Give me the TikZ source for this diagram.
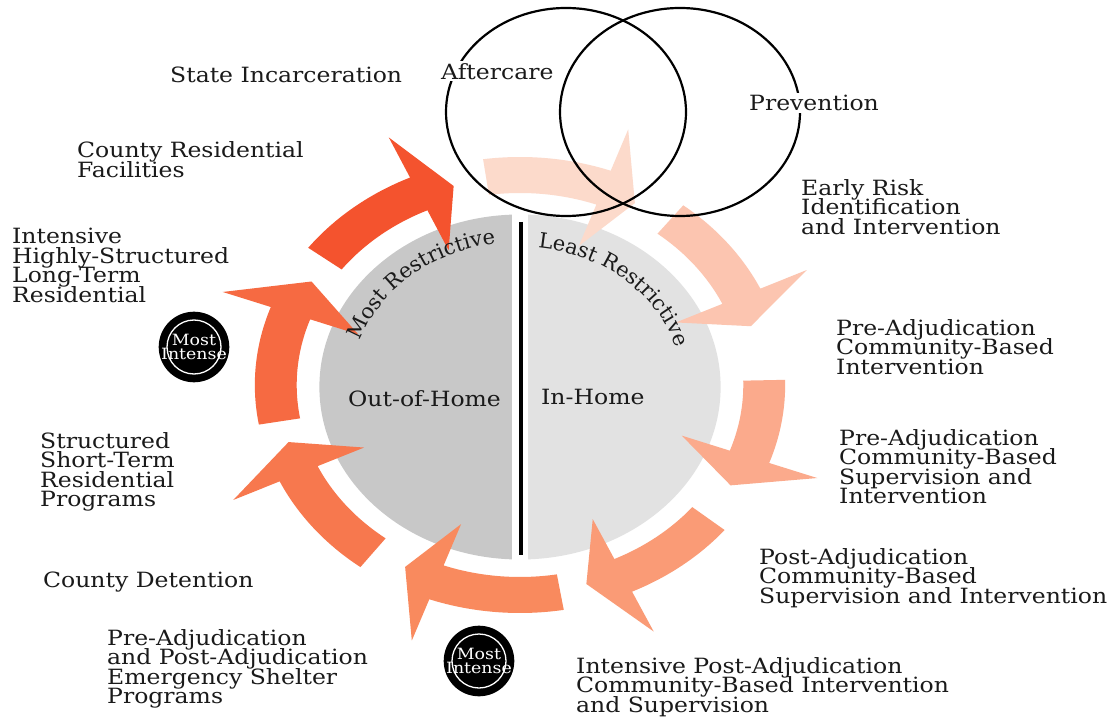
\documentclass[tikz,border=0pt]{standalone}
\usepackage{fontspec}
\setmainfont[FakeStretch=1.12]{DejaVu Serif}
\newfontfamily\plainserif{DejaVu Serif}
\usetikzlibrary{decorations.text}
\newcommand\lblfont{\fontsize{21}{19.5}\selectfont\lineskiplimit=-50pt\relax}
\newcommand\midfont{\fontsize{21}{22}\selectfont}
\newcommand\badgefont{\fontsize{15.5}{14.5}\selectfont\lineskiplimit=-50pt\relax}
\definecolor{txt}{HTML}{1A1A1A}
\definecolor{grayL}{HTML}{C8C8C8}
\definecolor{grayR}{HTML}{E2E2E2}
\definecolor{aOne}{HTML}{FCDACB}
\definecolor{aTwo}{HTML}{FCC5B0}
\definecolor{aThree}{HTML}{FBAA8C}
\definecolor{aFour}{HTML}{FA9B76}
\definecolor{aFive}{HTML}{F98A5E}
\definecolor{aSix}{HTML}{F7784E}
\definecolor{aSeven}{HTML}{F66A42}
\definecolor{aEight}{HTML}{F4532E}
% tail angle, head-base angle, tip angle, colour
\newcommand\ringarrow[4]{%
  \fill[#4] (#1:228) arc[start angle=#1, end angle=#2, radius=228]
    -- (#2:272) -- (#3:207) -- (#2:148) -- (#2:192)
    arc[start angle=#2, end angle=#1, radius=192] -- cycle;}
\begin{document}
\begin{tikzpicture}[x=1pt,y=1pt,
  lbl/.style={anchor=north west, align=left, inner sep=0pt, font=\lblfont, text=txt},
  midlbl/.style={anchor=north west, inner sep=0pt, font=\midfont, text=txt},
  badge/.style={circle, fill=black, minimum size=62pt, inner sep=0pt, text=white, align=center, font=\badgefont},
  venn/.style={draw=black, line width=2.2pt}]
\useasboundingbox (0,0) rectangle (1115,721);
\fill[white] (0,0) rectangle (1115,721);

% central split circle and ring of arrows
\begin{scope}[shift={(520,336)}, xscale=1.163]
  \begin{scope}
    \clip (-300,-300) rectangle (-6.9,300);
    \fill[grayL] (0,-2) circle (172.5);
  \end{scope}
  \begin{scope}
    \clip (6.9,-300) rectangle (300,300);
    \fill[grayR] (0,-2) circle (172.5);
  \end{scope}
  \ringarrow{98}{70}{61.5}{aOne}
  \ringarrow{52}{25}{16.5}{aTwo}
  \ringarrow{1.3}{-20}{-29}{aThree}
  \ringarrow{-39.5}{-65}{-74}{aFour}
  \ringarrow{-80.5}{-110}{-118.5}{aFive}
  \ringarrow{-127}{-155}{-164}{aSix}
  \ringarrow{190}{160}{150}{aSeven}
  \ringarrow{143}{114.5}{106}{aEight}
\end{scope}

% divider
\draw[black, line width=3.5pt] (521,499) -- (521,166);

% Venn circles
\draw[venn] (566,609) ellipse [x radius=120, y radius=104];
\draw[venn] (680,609) ellipse [x radius=120, y radius=104];

% curved texts
\path[decorate, decoration={text along path, text align=center,
   text={|\plainserif\fontsize{21}{21}\selectfont\color{txt}|Most Restrictive}}]
   (520,334) ++(178:168.6 and 145) arc[start angle=178, end angle=84, x radius=168.6, y radius=145];
\path[decorate, decoration={text along path, text align=center,
   text={|\plainserif\fontsize{21}{21}\selectfont\color{txt}|Least Restrictive}}]
   (520,334) ++(96:162.8 and 140) arc[start angle=96, end angle=2, x radius=162.8, y radius=140];

\node[midlbl] (out) at (348,331) {Out-of-Home};
\node[midlbl] (inh) at (541,332) {In-Home};

% badges
\node[badge] (b1) at (194,374) {Most\\Intense};
\draw[white, line width=1.3pt] (b1.center) circle (27);
\node[badge] (b2) at (479,60) {Most\\Intense};
\draw[white, line width=1.3pt] (b2.center) circle (27);

% labels
\node[lbl] (inc) at (170,654) {State Incarceration};
\node[lbl] (crf) at (77,579.3) {County Residential\\Facilities};
\node[lbl] (ihs) at (12,492.7) {Intensive\\Highly-Structured\\Long-Term\\Residential};
\node[lbl] (ssr) at (40,289) {Structured\\Short-Term\\Residential\\Programs};
\node[lbl] (cd) at (43,149) {County Detention};
\node[lbl] (pap) at (107,92) {Pre-Adjudication\\and Post-Adjudication\\Emergency Shelter\\Programs};
\node[lbl, fill=white, inner sep=2pt] (aft) at (439,660) {Aftercare};
\node[lbl, fill=white, inner sep=2pt] (prev) at (747,628) {Prevention};
\node[lbl] (eri) at (801,542) {Early Risk\\Identification\\and Intervention};
\node[lbl] (pci) at (836,402) {Pre-Adjudication\\Community-Based\\Intervention};
\node[lbl] (pcs) at (839,292) {Pre-Adjudication\\Community-Based\\Supervision and\\Intervention};
\node[lbl] (post) at (759,173) {Post-Adjudication\\Community-Based\\Supervision and Intervention};
\node[lbl] (ipa) at (576,64) {Intensive Post-Adjudication\\Community-Based Intervention\\and Supervision};
\end{tikzpicture}
\end{document}
